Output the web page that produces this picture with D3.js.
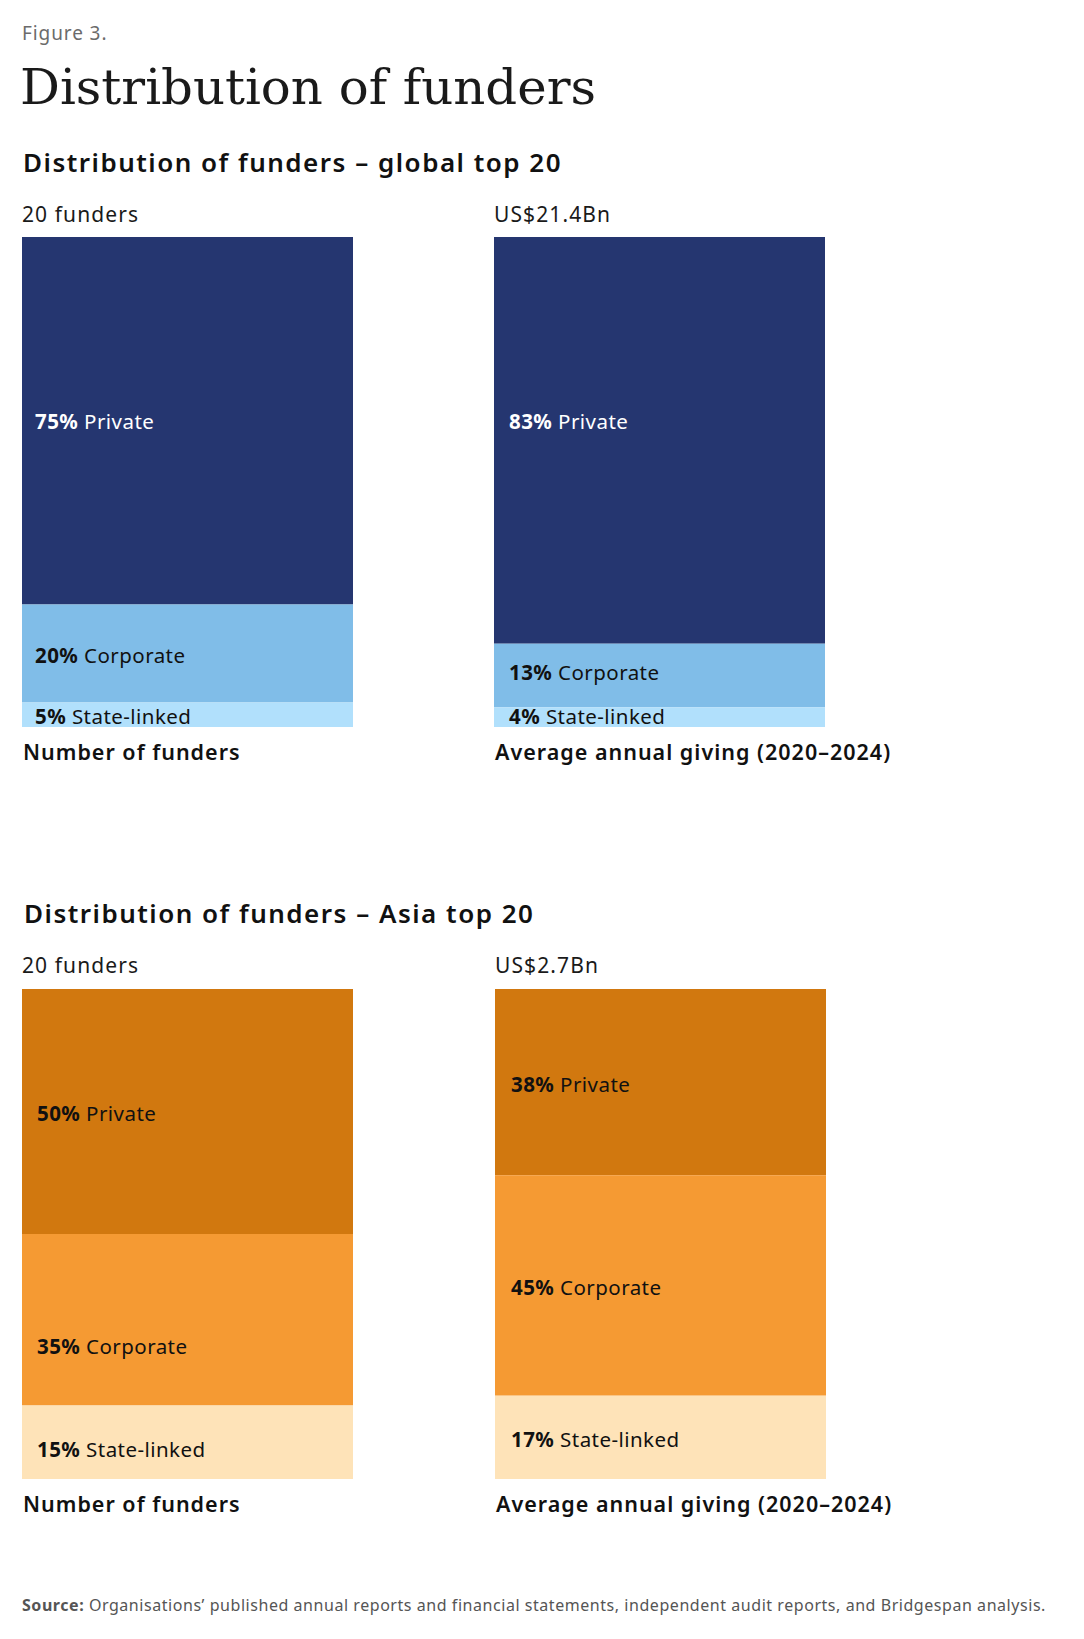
<!DOCTYPE html>
<html>
<head>
<meta charset="utf-8">
<script src="https://cdn.jsdelivr.net/npm/d3@7"></script>
<style>
  body { margin: 0; background: #fff; }
  svg text { font-family: "Noto Sans", "Open Sans", sans-serif; }
  .fig { font-size: 19px; fill: #6b6b6b; letter-spacing: 0.9px; }
  .title { font-family: "DejaVu Serif", serif !important; font-size: 48px; fill: #1a1a1a; }
  .subtitle { font-size: 26px; font-weight: 600; fill: #111; letter-spacing: 1.5px; }
  .header { font-size: 21px; fill: #1a1a1a; letter-spacing: 1.1px; }
  .axis-label { font-size: 21.5px; font-weight: 600; fill: #111; letter-spacing: 1px; }
  .seg-label { font-size: 20.5px; letter-spacing: 0.45px; }
  .seg-label .pct { font-weight: 700; }
  .source { font-size: 16px; fill: #555; letter-spacing: 0.55px; }
  .source .lead { font-weight: 700; }
</style>
</head>
<body>
<svg></svg>
<script>
// Categories shared by all four bars
const categories = ["Private", "Corporate", "State-linked"];

// Share of funders / giving, in %
const globalCount = [75, 20, 5];
const globalGiving = [83, 13, 4];
const asiaCount = [50, 35, 15];
const asiaGiving = [38, 45, 17];

// Text above and below each bar
const globalHeaders = ["20 funders", "US$21.4Bn"];
const asiaHeaders = ["20 funders", "US$2.7Bn"];
const barLabels = ["Number of funders", "Average annual giving (2020–2024)"];

const width = 1084, height = 1639;
const barW = 331, barH = 490;

const svg = d3.select("svg").attr("width", width).attr("height", height);

svg.append("text").attr("class", "fig").attr("x", 22).attr("y", 40).text("Figure 3.");

// the serif is squeezed to the width it takes in the original
svg.append("text").attr("class", "title")
  .attr("x", 20).attr("y", 104)
  .attr("textLength", 576).attr("lengthAdjust", "spacingAndGlyphs")
  .text("Distribution of funders");

// panel layout: where each block sits on the page
const panels = [
  {
    subtitle: "Distribution of funders – global top 20",
    subY: 172, headY: 222, barTop: 237, subX: 23,
    xs: [22, 494],
    inset: [13, 15],
    series: [globalCount, globalGiving],
    headers: globalHeaders,
    colors: ["#253670", "#80bde8", "#b1e0fc"],
    text: ["#ffffff", "#111111", "#111111"],
    nudge: [[-1, 0, 0], [-21, -5, -3]]
  },
  {
    subtitle: "Distribution of funders – Asia top 20",
    subY: 923, headY: 973, barTop: 989, subX: 24,
    xs: [22, 495],
    inset: [15, 16],
    series: [asiaCount, asiaGiving],
    headers: asiaHeaders,
    colors: ["#d1780f", "#f59a33", "#fee3b8"],
    text: ["#111111", "#111111", "#111111"],
    nudge: [[0, 25, 5], [0, 0, 0]]
  }
];

// percent -> pixels along the bar
const y = d3.scaleLinear().domain([0, 100]).range([0, barH]);

panels.forEach((p) => {
  const g = svg.append("g");

  g.append("text").attr("class", "subtitle")
    .attr("x", p.subX).attr("y", p.subY).text(p.subtitle);

  p.series.forEach((values, bi) => {
    const x0 = p.xs[bi];
    const row = {};
    categories.forEach((c, i) => (row[c] = values[i]));
    const stacked = d3.stack().keys(categories)([row]);

    const bar = g.append("g").attr("transform", `translate(${x0}, ${p.barTop})`);

    bar.selectAll("rect")
      .data(stacked)
      .enter()
      .append("rect")
      .attr("x", 0)
      .attr("y", (d) => y(d[0][0]))
      .attr("width", barW)
      .attr("height", (d) => y(d[0][1]) - y(d[0][0]))
      .style("fill", (d, i) => p.colors[i]);

    // label sits in the middle of its segment
    const labels = bar.selectAll("text.seg-label")
      .data(stacked)
      .enter()
      .append("text")
      .attr("class", "seg-label")
      .attr("x", p.inset[bi])
      .attr("y", (d, i) => (y(d[0][0]) + y(d[0][1])) / 2 + 9.5 + p.nudge[bi][i])
      .style("fill", (d, i) => p.text[i]);
    labels.append("tspan").attr("class", "pct").text((d, i) => values[i] + "%");
    labels.append("tspan").text((d) => " " + d.key);

    g.append("text").attr("class", "header")
      .attr("x", x0).attr("y", p.headY).text(p.headers[bi]);

    g.append("text").attr("class", "axis-label")
      .attr("x", x0 + 1).attr("y", p.barTop + barH + 33).text(barLabels[bi]);
  });
});

const src = svg.append("text").attr("class", "source").attr("x", 22).attr("y", 1611);
src.append("tspan").attr("class", "lead").text("Source:");
src.append("tspan").text(" Organisations’ published annual reports and financial statements, independent audit reports, and Bridgespan analysis.");
</script>
</body>
</html>
